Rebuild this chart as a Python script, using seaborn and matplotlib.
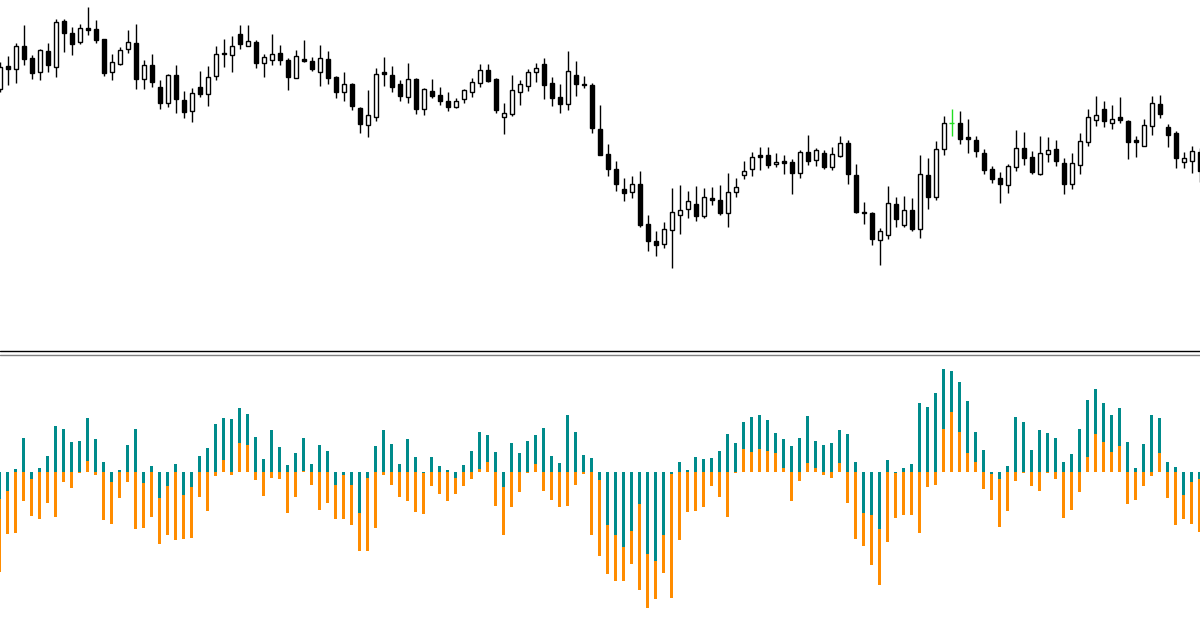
import numpy as np
import pandas as pd
import matplotlib
matplotlib.use("Agg")
import matplotlib.pyplot as plt
import seaborn as sns

# candle data (price in chart points)
open_ = [211, 234, 231, 254, 242, 228, 249, 233, 279, 267, 258, 272, 271, 261, 228, 236, 251, 257, 221, 235,
         213, 197, 225, 200, 189, 213, 206, 224, 247, 245, 266, 254, 258, 237, 240, 247, 240, 222, 241, 239,
         228, 241, 223, 208, 216, 192, 175, 183, 228, 225, 216, 203, 221, 191, 209, 205, 199, 193, 201, 208,
         217, 230, 221, 183, 186, 208, 214, 228, 236, 217, 203, 196, 225, 216, 215, 171, 146, 131, 111, 108,
         116, 76, 59, 56, 70, 85, 91, 96, 84, 102, 100, 87, 108, 125, 131, 145, 145, 136, 139, 138,
         127, 148, 140, 147, 133, 144, 157, 125, 88, 87, 60, 65, 96, 75, 90, 71, 125, 103, 151, 177,
         177, 163, 160, 147, 131, 122, 115, 133, 152, 143, 126, 146, 151, 137, 116, 135, 158, 180, 191, 177,
         183, 179, 160, 154, 174, 196, 173, 167, 138, 139, 148]
high = [238, 244, 257, 275, 245, 251, 257, 281, 281, 273, 276, 293, 280, 261, 246, 253, 270, 276, 240, 246,
        220, 226, 235, 209, 212, 229, 234, 254, 261, 264, 275, 275, 260, 246, 266, 255, 242, 250, 260, 243,
        255, 249, 224, 228, 217, 193, 210, 232, 243, 234, 220, 237, 222, 212, 221, 213, 208, 202, 211, 222,
        236, 236, 222, 197, 225, 220, 231, 237, 242, 223, 216, 249, 239, 224, 217, 195, 156, 139, 122, 124,
        129, 85, 69, 78, 112, 115, 109, 114, 112, 113, 115, 127, 122, 139, 148, 153, 153, 147, 145, 141,
        150, 165, 152, 150, 153, 164, 160, 136, 98, 88, 72, 114, 103, 104, 102, 145, 142, 159, 184, 191,
        189, 181, 164, 151, 134, 128, 136, 170, 168, 149, 164, 163, 160, 142, 147, 167, 191, 204, 199, 195,
        203, 180, 164, 181, 204, 205, 176, 169, 148, 154, 152]
low = [208, 215, 217, 235, 221, 220, 228, 223, 248, 245, 256, 265, 257, 224, 220, 235, 247, 211, 211, 213,
       191, 193, 187, 182, 178, 203, 194, 220, 233, 228, 251, 254, 232, 223, 235, 235, 210, 222, 238, 229,
       214, 216, 202, 199, 190, 167, 163, 179, 214, 208, 199, 197, 186, 185, 202, 195, 189, 192, 197, 203,
       213, 218, 187, 166, 184, 195, 209, 218, 201, 194, 187, 190, 204, 212, 167, 145, 124, 109, 99, 102,
       73, 49, 44, 52, 32, 66, 82, 79, 82, 95, 85, 73, 103, 121, 124, 130, 132, 133, 126, 106,
       122, 135, 134, 131, 130, 143, 116, 87, 76, 55, 35, 61, 73, 73, 69, 62, 91, 100, 145, 164,
       156, 147, 143, 126, 117, 97, 107, 129, 135, 126, 125, 138, 134, 106, 111, 126, 154, 174, 173, 171,
       177, 141, 143, 154, 165, 182, 153, 132, 132, 127, 118]
close = [233, 231, 254, 241, 227, 250, 235, 278, 267, 256, 272, 270, 260, 227, 238, 250, 258, 221, 235, 218,
         197, 225, 201, 188, 207, 206, 223, 246, 246, 254, 256, 259, 237, 243, 246, 240, 223, 244, 239, 231,
         242, 222, 208, 216, 194, 176, 185, 226, 226, 213, 204, 221, 191, 211, 204, 199, 193, 199, 210, 218,
         230, 219, 190, 187, 210, 216, 228, 232, 215, 202, 196, 229, 216, 215, 172, 145, 131, 116, 107, 116,
         75, 59, 55, 71, 88, 90, 99, 84, 103, 100, 87, 108, 113, 129, 143, 143, 135, 138, 137, 127,
         148, 139, 150, 133, 146, 157, 126, 88, 87, 61, 69, 97, 81, 90, 71, 126, 103, 151, 177, 177,
         161, 161, 149, 130, 121, 116, 134, 152, 142, 128, 147, 150, 139, 116, 137, 159, 183, 185, 179, 181,
         180, 158, 158, 175, 197, 186, 165, 142, 142, 149, 129]

# histogram buffers
teal_vals = [-82, -58, 8, 101, -22, 11, 47, 137, 128, 89, 92, 161, 98, 29, -30, 5, 80, 128, -34, 17,
             -78, -42, 23, -69, -45, 47, 71, 143, 161, 158, 191, 173, 104, 38, 125, 74, 20, 56, 101, 23,
             80, 62, -39, -9, -39, -123, -18, 77, 125, 83, 23, 98, 44, -3, 44, 17, 5, -18, 20, 62,
             119, 110, 59, -45, 86, 56, 92, 110, 131, 47, 26, 170, 119, 50, 41, -24, -160, -189, -225, -178,
             -96, -246, -267, -189, -6, 29, 5, 44, 38, 41, 62, 113, 86, 149, 164, 170, 155, 116, 98, 77,
             101, 167, 92, 80, 86, 125, 113, 29, -124, -129, -171, 35, -3, 11, 23, 206, 194, 236, 308, 302,
             269, 212, 119, 65, -6, -21, 17, 164, 149, 65, 125, 116, 101, 29, 53, 128, 215, 248, 206, 170,
             191, 89, 11, 83, 170, 161, 29, 14, -69, -30, -21]
orange_vals = [-300, -186, -183, -88, -132, -141, -93, -135, -30, -48, -3, 32, -9, -144, -156, -78, -30, -171, -168, -135,
               -216, -189, -204, -201, -198, -75, -117, -12, 36, -9, 86, 81, -24, -72, -18, -21, -123, -75, 2, -39,
               -114, -93, -141, -141, -159, -237, -237, -168, -9, -39, -75, -87, -120, -126, -42, -66, -87, -66, -42, -21,
               8, 29, -102, -189, -105, -60, -3, 24, -57, -84, -105, -102, -39, -6, -189, -252, -306, -327, -327, -276,
               -354, -408, -381, -303, -378, -204, -120, -117, -105, -42, -75, -135, -3, 68, 59, 68, 62, 56, 11, -87,
               -27, 26, 12, -9, -18, 26, -93, -201, -222, -279, -339, -210, -138, -129, -129, -183, -45, -39, 128, 179,
               119, 56, 29, -51, -84, -165, -117, -27, -3, -42, -57, -3, -21, -138, -114, -60, 44, 113, 89, 59,
               77, -96, -84, -42, -12, 56, -78, -159, -141, -156, -180]

TEAL = "#008B8B"
ORANGE = "#FF8C00"
DOJI = "#22DD22"

sns.set_style("white")

fig = plt.figure(figsize=(12, 6.27), dpi=100)
ax_top = fig.add_axes([0, 277 / 627, 1, 350 / 627])
ax_bot = fig.add_axes([0, 0, 1, 271 / 627])

n = len(open_)
idx = np.arange(n)

# candles
o = np.array(open_)
c = np.array(close)
col = np.where(c > o, "white", "black").astype(object)
edge = np.full(n, "black", dtype=object)
doji = c == o
col[doji] = DOJI
edge[doji] = DOJI

ax_top.vlines(idx, low, high, colors=list(edge), linewidth=1.0, zorder=1)
ax_top.bar(idx[~doji], (c - o)[~doji], bottom=o[~doji], width=0.5, color=list(col[~doji]),
           edgecolor=list(edge[~doji]), linewidth=1.0, zorder=2)
# flat candles get a horizontal tick
ax_top.hlines(c[doji], idx[doji] - 0.3, idx[doji] + 0.3, colors=DOJI, linewidth=1.0, zorder=2)
ax_top.set_xlim(0.06, 150.06)
ax_top.set_ylim(-50, 300)
ax_top.axis("off")

# histogram: larger magnitude drawn behind, smaller on top
t = np.array(teal_vals)
ov = np.array(orange_vals)
teal_big = np.abs(t) >= np.abs(ov)
back = pd.DataFrame({"bar": idx, "val": np.where(teal_big, t, ov),
                     "kind": np.where(teal_big, "teal", "orange")})
front = pd.DataFrame({"bar": idx, "val": np.where(teal_big, ov, t),
                      "kind": np.where(teal_big, "orange", "teal")})
pal = {"teal": TEAL, "orange": ORANGE}
for layer in (back, front):
    sns.barplot(data=layer, x="bar", y="val", hue="kind", palette=pal, native_scale=True,
                dodge=False, width=0.375, errorbar=None, legend=False, ax=ax_bot,
                linewidth=0, saturation=1)
ax_bot.set_xlim(0.06, 150.06)
ax_bot.set_ylim(-466, 347)
ax_bot.axis("off")

# panel separator
fig.add_artist(plt.Line2D([0, 1], [1 - 351.5 / 627] * 2, color="black", linewidth=1.0))
fig.add_artist(plt.Line2D([0, 1], [1 - 354.5 / 627] * 2, color="#808080", linewidth=1.0))

fig.savefig("out.png", dpi=100, facecolor="white")
